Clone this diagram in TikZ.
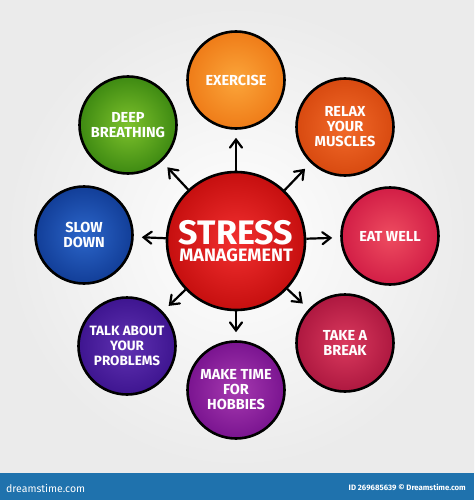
\documentclass[tikz,border=0pt]{standalone}
\usepackage{fontspec}
\setmainfont{Fira Sans}
\usetikzlibrary{arrows.meta}
\definecolor{exin}{HTML}{FBA53A}\definecolor{exout}{HTML}{EF7C18}
\definecolor{rein}{HTML}{F26A2A}\definecolor{reout}{HTML}{D84A10}
\definecolor{eain}{HTML}{EE4C60}\definecolor{eaout}{HTML}{D21E46}
\definecolor{tain}{HTML}{DA3A5E}\definecolor{taout}{HTML}{AE1840}
\definecolor{main}{HTML}{A63AB0}\definecolor{maout}{HTML}{7A1490}
\definecolor{tlin}{HTML}{6032B2}\definecolor{tlout}{HTML}{3E1590}
\definecolor{slin}{HTML}{2C66CA}\definecolor{slout}{HTML}{123E98}
\definecolor{dein}{HTML}{7EC22C}\definecolor{deout}{HTML}{3E8A12}
\definecolor{cein}{HTML}{F23030}\definecolor{ceout}{HTML}{C60F0F}
\definecolor{barblue}{HTML}{1F72AD}
\begin{document}
\begin{tikzpicture}[x=1pt,y=-1pt,
  bub/.style={circle, draw=black, line width=2.6pt, minimum size=97pt, inner sep=0pt,
    text=white, font=\bfseries\fontsize{14.5}{15}\selectfont, align=center},
  arr/.style={-{Straight Barb[length=8pt,width=12pt,line width=2.2pt,line cap=round]}, line width=2.2pt, shorten >=8pt},
  bartext/.style={text=white, inner sep=0pt}
]
\useasboundingbox (0,0) rectangle (474,500);
\shade[inner color=white, outer color=black!8] (0,0) rectangle (474,473);
\fill[barblue] (0,473) rectangle (474,500);
\node[bartext, anchor=west, font=\fontsize{10.5}{12}\selectfont] (l1) at (6,488) {dreamstime.com};
\node[bartext, anchor=east, font=\bfseries\fontsize{7.8}{8}\selectfont] (l2) at (466,487) {ID 269685639 \textcopyright{} Dreamstime.com};

\node[bub, minimum size=138pt, inner color=cein, outer color=ceout] (c) at (236,241)
  {{\fontsize{34}{34}\selectfont STRESS}\\[2pt]{\fontsize{18}{18}\selectfont MANAGEMENT}};
\node[bub, inner color=exin, outer color=exout] (ex) at (236,80) {EXERCISE};
\node[bub, inner color=rein, outer color=reout] (re) at (345,127) {RELAX\\YOUR\\MUSCLES};
\node[bub, inner color=eain, outer color=eaout] (ea) at (390,236) {EAT WELL};
\node[bub, inner color=tain, outer color=taout] (ta) at (345,343) {TAKE A\\BREAK};
\node[bub, inner color=main, outer color=maout] (ma) at (236,390) {MAKE TIME\\FOR\\HOBBIES};
\node[bub, inner color=tlin, outer color=tlout, font=\bfseries\fontsize{13.5}{15}\selectfont] (tl) at (127,346) {TALK ABOUT\\YOUR\\PROBLEMS};
\node[bub, inner color=slin, outer color=slout] (sl) at (84,235) {SLOW\\DOWN};
\node[bub, inner color=dein, outer color=deout] (de) at (128,125) {DEEP\\BREATHING};

\foreach \t in {ex,re,ea,ta,ma,tl,sl,de} \draw[arr] (c) -- (\t);
\end{tikzpicture}
\end{document}
